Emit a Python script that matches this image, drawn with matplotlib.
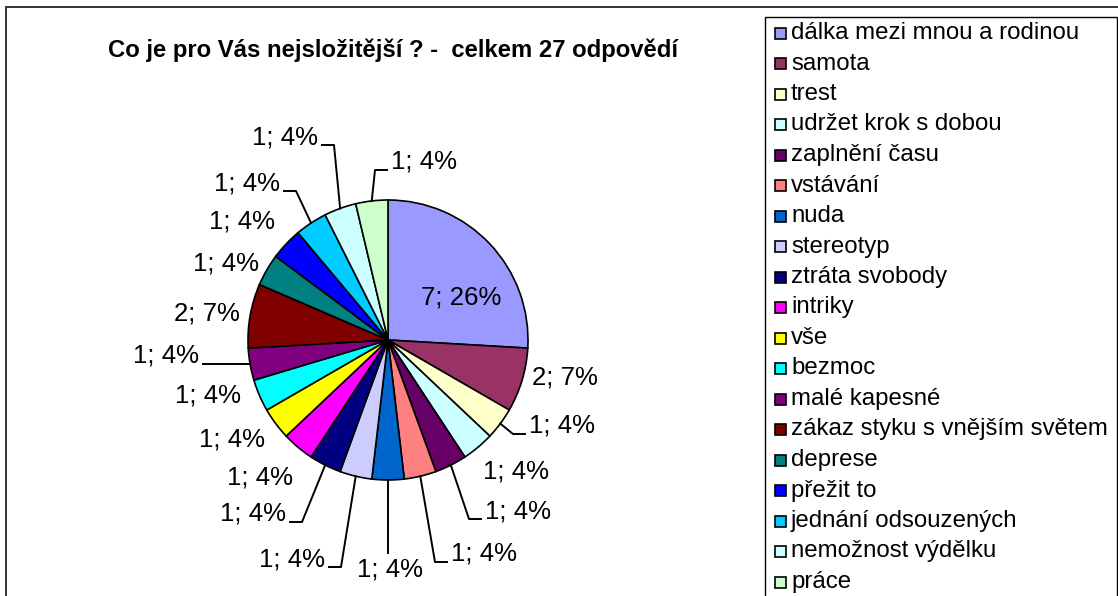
import numpy as np
import matplotlib.pyplot as plt
from matplotlib.patches import Rectangle

W, H = 1118, 596

title = "Co je pro Vás nejsložitější ? -  celkem 27 odpovědí"

categories = ["dálka mezi mnou a rodinou", "samota", "trest", "udržet krok s dobou",
              "zaplnění času", "vstávání", "nuda", "stereotyp", "ztráta svobody",
              "intriky", "vše", "bezmoc", "malé kapesné", "zákaz styku s vnějším světem",
              "deprese", "přežit to", "jednání odsouzených", "nemožnost výdělku", "práce"]
counts = [7, 2, 1, 1, 1, 1, 1, 1, 1, 1, 1, 1, 1, 2, 1, 1, 1, 1, 1]
colors = ["#9999FF", "#993366", "#FFFFCC", "#CCFFFF", "#660066", "#FF8080", "#0066CC",
          "#CCCCFF", "#000080", "#FF00FF", "#FFFF00", "#00FFFF", "#800080", "#800000",
          "#008080", "#0000FF", "#00CCFF", "#CCFFFF", "#CCFFCC"]

# label centres in pixels (from top-left), and whether a leader line is drawn
label_pos = [(461, 298), (565, 377), (562, 426), (516, 472), (518, 511), (484, 554),
             (390, 569), (292, 559), (253, 514), (260, 478), (232, 440), (208, 395),
             (166, 356), (207, 313), (226, 263), (242, 222), (247, 183), (285, 137),
             (424, 162)]
leader = [False, False, True, False, True, True, True, True, True, False, False, False,
          True, False, False, False, True, True, True]

cx, cy, r = 388, 340, 140

def Y(py):
    return H - py

plt.rcParams['font.family'] = ['Liberation Sans', 'DejaVu Sans']

fig = plt.figure(figsize=(W / 100, H / 100), dpi=100)
ax = fig.add_axes([0, 0, 1, 1])

wedges, _ = ax.pie(counts, colors=colors, startangle=90, counterclock=False,
                   center=(cx, Y(cy)), radius=r,
                   wedgeprops=dict(edgecolor="black", linewidth=1.2))
ax.set_xlim(0, W)
ax.set_ylim(0, H)
ax.axis("off")

# outer chart frame and legend frame (run off the picture at right/bottom)
ax.add_patch(Rectangle((6, -100), 1300, Y(7) + 100, fill=False, edgecolor="#333333", lw=1.4))
ax.add_patch(Rectangle((765, -100), 352, Y(17) + 100, fill=False, edgecolor="black", lw=1.0))

ax.text(393, Y(50), title, ha="center", va="center", fontsize=17.2, fontweight="bold")

total = sum(counts)
texts = []
for i, v in enumerate(counts):
    lbl = f"{v}; {round(v / total * 100)}%"
    x, y = label_pos[i]
    t = ax.text(x, Y(y), lbl, ha="center", va="center", fontsize=18.6)
    texts.append(t)

fig.canvas.draw()
renderer = fig.canvas.get_renderer()
inv = ax.transData.inverted()

cum = 0
for i, v in enumerate(counts):
    ang = np.deg2rad(90 - 360 * (cum + v / 2) / total)
    cum += v
    if not leader[i]:
        continue
    ex = cx + r * np.cos(ang)
    ey = Y(cy) + r * np.sin(ang)
    bb = texts[i].get_window_extent(renderer)
    (x0, y0), (x1, y1) = inv.transform([(bb.x0, bb.y0), (bb.x1, bb.y1)])
    tx, ty = label_pos[i]
    if abs(tx - ex) < 10:
        ax.plot([ex, ex], [ey, y1 + 4], color="black", lw=1.4)
        continue
    ly = Y(ty + 8)
    if abs(ly - ey) < 4:
        ly = ey
    if tx > ex:
        end = x0 - 4
        elbow = end - 12
    else:
        end = x1 + 4
        elbow = end + 12
    ax.plot([ex, elbow, end], [ey, ly, ly], color="black", lw=1.4)

# legend
for i, name in enumerate(categories):
    yy = Y(33 + i * 30.5)
    ax.add_patch(Rectangle((775, yy - 5.5), 11, 11, facecolor=colors[i],
                           edgecolor="black", lw=1.2))
    ax.text(791, yy, name, ha="left", va="center", fontsize=17.3)

fig.savefig("out.png", dpi=100)
